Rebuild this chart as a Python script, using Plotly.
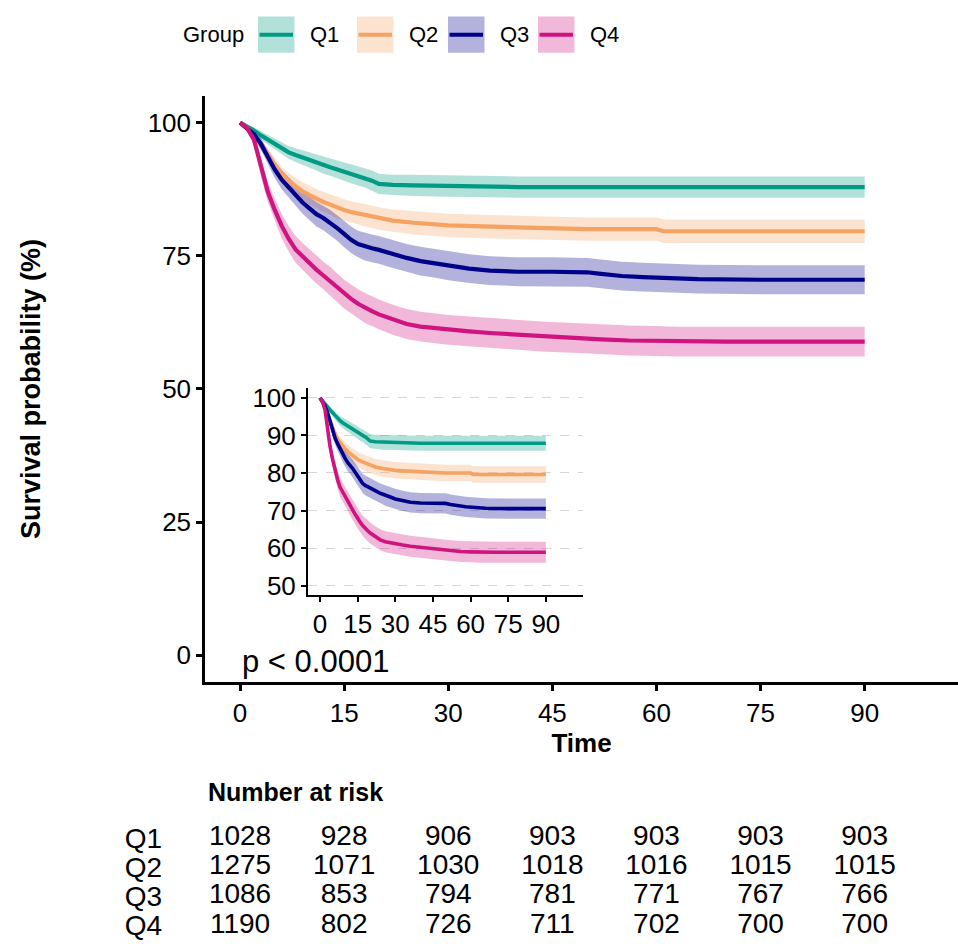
import plotly.graph_objects as go

# ---------------- data ----------------
groups = ["Q1", "Q2", "Q3", "Q4"]
line_colors = ["#009B83", "#F5A262", "#00008B", "#CF1480"]
band_colors = ["rgba(0,155,131,0.30)", "rgba(245,162,98,0.30)",
               "rgba(0,0,139,0.30)", "rgba(207,20,128,0.30)"]

q1_time = [0, 1, 2, 3, 4, 5, 6, 7, 8, 9, 10, 11, 12, 13, 14, 15, 16, 17, 18, 19, 20,
           22, 25, 30, 35, 40, 50, 60, 70, 80, 90]
q1_surv = [100, 99.3, 98.5, 97.6, 96.8, 96.0, 95.2, 94.4, 93.9, 93.4, 93.0, 92.5, 92.0,
           91.6, 91.2, 90.8, 90.4, 90.0, 89.6, 89.1, 88.5, 88.3, 88.2, 88.1, 88.0, 87.9,
           87.9, 87.9, 87.9, 87.9, 87.9]
q1_ci = [0, 0.4, 0.6, 0.8, 0.9, 1.0, 1.1, 1.2, 1.3, 1.4, 1.5, 1.5, 1.6, 1.6, 1.7, 1.7,
         1.8, 1.8, 1.8, 1.9, 1.9, 1.9, 2.0, 2.0, 2.0, 2.0, 2.0, 2.0, 2.0, 2.0, 2.0]

q2_time = [0, 1, 2, 3, 4, 5, 6, 7, 8, 9, 10, 11, 12, 13, 14, 15, 16, 17, 18, 19, 20,
           22, 25, 28, 30, 35, 40, 45, 50, 55, 60, 61, 70, 80, 90]
q2_surv = [100, 99.0, 97.6, 95.9, 94.0, 92.0, 90.3, 89.0, 88.0, 87.1, 86.4, 85.7, 85.1,
           84.6, 84.0, 83.6, 83.2, 82.9, 82.6, 82.3, 82.0, 81.6, 81.2, 80.9, 80.7, 80.5,
           80.3, 80.1, 80.0, 80.0, 80.0, 79.6, 79.6, 79.6, 79.6]
q2_ci = [0, 0.4, 0.6, 0.9, 1.1, 1.3, 1.4, 1.5, 1.6, 1.7, 1.8, 1.8, 1.9, 1.9, 2.0, 2.0,
         2.0, 2.1, 2.1, 2.1, 2.1, 2.1, 2.2, 2.2, 2.2, 2.2, 2.2, 2.2, 2.2, 2.2, 2.2, 2.2,
         2.2, 2.2, 2.2]

q3_time = [0, 1, 2, 3, 4, 5, 6, 7, 8, 9, 10, 11, 12, 13, 14, 15, 16, 17, 18, 19, 20,
           22, 24, 26, 28, 30, 33, 36, 40, 45, 50, 52, 55, 58, 62, 66, 75, 85, 90]
q3_surv = [100, 99.0, 97.8, 96.0, 93.5, 91.2, 89.3, 87.8, 86.4, 85.0, 83.9, 82.8, 82.1,
           81.2, 80.2, 79.1, 78.0, 77.2, 76.7, 76.4, 76.1, 75.3, 74.6, 74.0, 73.6, 73.1,
           72.6, 72.2, 72.0, 72.0, 71.9, 71.6, 71.2, 71.0, 70.8, 70.6, 70.5, 70.5, 70.5]
q3_ci = [0, 0.5, 0.8, 1.1, 1.4, 1.6, 1.8, 1.9, 2.0, 2.1, 2.2, 2.3, 2.3, 2.4, 2.4, 2.5,
         2.5, 2.5, 2.6, 2.6, 2.6, 2.6, 2.6, 2.7, 2.7, 2.7, 2.7, 2.7, 2.7, 2.7, 2.7, 2.7,
         2.7, 2.7, 2.7, 2.7, 2.7, 2.7, 2.7]

q4_time = [0, 1, 2, 3, 4, 5, 6, 7, 8, 9, 10, 11, 12, 13, 14, 15, 16, 17, 18, 19, 20,
           22, 24, 26, 28, 30, 33, 36, 40, 44, 48, 52, 56, 60, 63, 70, 80, 90]
q4_surv = [100, 99.0, 96.8, 91.5, 87.0, 83.6, 80.6, 78.2, 76.2, 74.9, 73.6, 72.4, 71.3,
           70.2, 69.0, 67.8, 66.9, 66.0, 65.2, 64.6, 64.0, 63.0, 62.2, 61.7, 61.4, 61.1,
           60.8, 60.5, 60.2, 59.8, 59.6, 59.3, 59.1, 59.0, 58.9, 58.9, 58.9, 58.9]
q4_ci = [0, 0.6, 1.0, 1.6, 1.9, 2.1, 2.3, 2.4, 2.5, 2.5, 2.6, 2.6, 2.6, 2.7, 2.7, 2.7,
         2.7, 2.7, 2.8, 2.8, 2.8, 2.8, 2.8, 2.8, 2.8, 2.8, 2.8, 2.8, 2.8, 2.8, 2.8, 2.8,
         2.8, 2.8, 2.8, 2.8, 2.8, 2.8]

risk_times = [0, 15, 30, 45, 60, 75, 90]
risk_q1 = [1028, 928, 906, 903, 903, 903, 903]
risk_q2 = [1275, 1071, 1030, 1018, 1016, 1015, 1015]
risk_q3 = [1086, 853, 794, 781, 771, 767, 766]
risk_q4 = [1190, 802, 726, 711, 702, 700, 700]

p_label = "p < 0.0001"
x_ticks = [0, 15, 30, 45, 60, 75, 90]
y_ticks = [0, 25, 50, 75, 100]
inset_y_ticks = [50, 60, 70, 80, 90, 100]

# ---------------- layout helpers ----------------
W, H = 958, 944
FONT = "Liberation Sans, Arial, Helvetica, sans-serif"


def px_x(p):
    return p / W


def py_y(p):
    return 1 - p / H


series = [
    (q1_time, q1_surv, q1_ci),
    (q2_time, q2_surv, q2_ci),
    (q3_time, q3_surv, q3_ci),
    (q4_time, q4_surv, q4_ci),
]

fig = go.Figure()

for axes, lw in ((("x", "y"), 4.2), (("x2", "y2"), 3.6)):
    xr, yr = axes
    for g, (t, s, ci), lc, bc in zip(groups, series, line_colors, band_colors):
        lo = [v - c for v, c in zip(s, ci)]
        hi = [v + c for v, c in zip(s, ci)]
        fig.add_trace(go.Scatter(x=t, y=lo, mode="lines", line=dict(width=0),
                                 hoverinfo="skip", showlegend=False, xaxis=xr, yaxis=yr))
        fig.add_trace(go.Scatter(x=t, y=hi, mode="lines", line=dict(width=0),
                                 fill="tonexty", fillcolor=bc, hoverinfo="skip",
                                 showlegend=False, xaxis=xr, yaxis=yr))
    for g, (t, s, ci), lc in zip(groups, series, line_colors):
        fig.add_trace(go.Scatter(x=t, y=s, mode="lines", name=g,
                                 line=dict(color=lc, width=lw),
                                 showlegend=False, xaxis=xr, yaxis=yr))

# risk table
risk_rows = [risk_q1, risk_q2, risk_q3, risk_q4]
for g, row in zip(groups, risk_rows):
    fig.add_trace(go.Scatter(x=risk_times, y=[g] * len(risk_times), mode="text",
                             text=[str(v) for v in row], textposition="middle center",
                             textfont=dict(size=28, color="black", family=FONT),
                             hoverinfo="skip", showlegend=False, xaxis="x3", yaxis="y3",
                             cliponaxis=False))

# ---------------- axes ----------------
main_xr = [-5.05, 103.45]
main_dom = [px_x(205), 1.0]
scale = (W * (main_dom[1] - main_dom[0])) / (main_xr[1] - main_xr[0])
table_xr = [main_xr[0] - 205 / scale, main_xr[1]]

axis_common = dict(showline=True, linecolor="black", linewidth=2.5, ticks="outside",
                   ticklen=6, tickwidth=2.5, tickcolor="black", showgrid=False,
                   zeroline=False, tickfont=dict(size=26, color="black", family=FONT))

fig.update_layout(
    width=W, height=H,
    margin=dict(l=0, r=0, t=0, b=0),
    paper_bgcolor="white", plot_bgcolor="rgba(0,0,0,0)",
    font=dict(family=FONT, color="black"),
    showlegend=False,
    xaxis=dict(domain=main_dom, range=main_xr, tickvals=x_ticks, anchor="y",
               title=dict(text="<b>Time</b>", font=dict(size=26, family=FONT), standoff=6),
               **axis_common),
    yaxis=dict(domain=[py_y(685), py_y(92)], range=[-5, 105], tickvals=y_ticks, anchor="x",
               title=dict(text="<b>Survival probability (%)</b>", font=dict(size=27, family=FONT),
                          standoff=100),
               **axis_common),
    xaxis2=dict(domain=[px_x(308), px_x(583)], range=[-4.8, 104.8], tickvals=x_ticks,
                anchor="y2", showline=True, linecolor="black", linewidth=2, ticks="outside",
                ticklen=5, tickwidth=2, tickcolor="black", showgrid=False, zeroline=False,
                tickfont=dict(size=26, color="black", family=FONT)),
    yaxis2=dict(domain=[py_y(597), py_y(388)], range=[47.5, 102.5], tickvals=inset_y_ticks,
                anchor="x2", showline=True, linecolor="black", linewidth=2, ticks="outside",
                ticklen=5, tickwidth=2, tickcolor="black", showgrid=True,
                gridcolor="#d6d6d6", griddash="dash", gridwidth=1, zeroline=False,
                tickfont=dict(size=26, color="black", family=FONT)),
    xaxis3=dict(domain=[0, 1], range=table_xr, anchor="y3", visible=False, fixedrange=True),
    yaxis3=dict(domain=[0, py_y(820)], range=[-0.424, 3.78], anchor="free",
                position=px_x(162), type="category",
                categoryorder="array", categoryarray=groups[::-1],
                tickmode="array", tickvals=groups, ticktext=groups,
                showline=False, ticks="", showgrid=False, zeroline=False,
                tickfont=dict(size=28, color="black", family=FONT)),
)

# p-value
fig.add_annotation(x=0, y=-1.2, xref="x", yref="y", text=p_label, showarrow=False,
                   xanchor="left", yanchor="middle", font=dict(size=31, family=FONT))

# Number at risk title
fig.add_annotation(x=px_x(206), y=py_y(796), xref="paper", yref="paper",
                   text="<b>Number at risk</b>", showarrow=False, xanchor="left",
                   yanchor="middle", font=dict(size=25, family=FONT))

# manual legend (key boxes with line + labels)
fig.add_annotation(x=px_x(181), y=py_y(30), xref="paper", yref="paper", text="Group",
                   showarrow=False, xanchor="left", yanchor="middle",
                   font=dict(size=22, family=FONT))
key_left = [258, 357, 448, 538]
for g, lc, bc, kx in zip(groups, line_colors, band_colors, key_left):
    fig.add_shape(type="rect", xref="paper", yref="paper", x0=px_x(kx), x1=px_x(kx + 36.5),
                  y0=py_y(48.3), y1=py_y(11.7), fillcolor=bc, line=dict(width=0))
    fig.add_shape(type="line", xref="paper", yref="paper", x0=px_x(kx + 1.5),
                  x1=px_x(kx + 35), y0=py_y(30), y1=py_y(30), line=dict(color=lc, width=4))
    fig.add_annotation(x=px_x(kx + 50), y=py_y(30), xref="paper", yref="paper", text=g,
                       showarrow=False, xanchor="left", yanchor="middle",
                       font=dict(size=22, family=FONT))

fig.write_html("out.html")
